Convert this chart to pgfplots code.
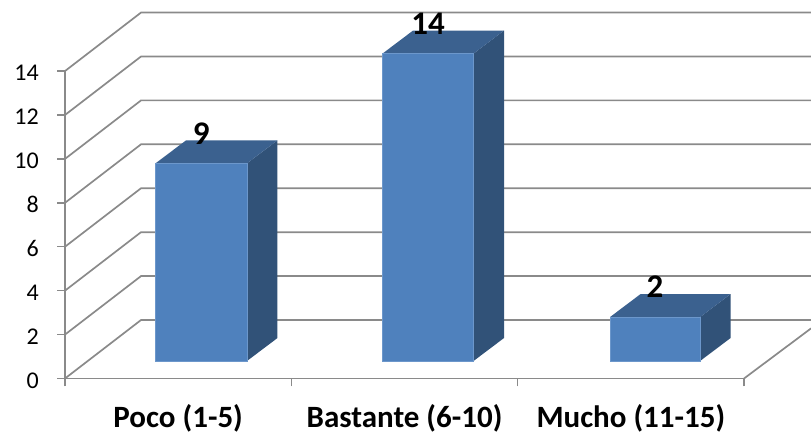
\documentclass[border=0pt]{standalone}
\usepackage{pgfplots}
\pgfplotsset{compat=1.18}
\usepackage{fontspec}
\setmainfont{Carlito}
\definecolor{axisgray}{HTML}{8A8A8A}
\definecolor{barfront}{HTML}{4F81BD}
\definecolor{bartop}{HTML}{3B618F}
\definecolor{barside}{HTML}{315278}
\definecolor{baredge}{HTML}{6C97CB}
% Depth of the chart box and of each column, in data units
\def\boxdx{0.336}
\def\boxdy{2.664}
\def\bardx{0.1348}
\def\bardy{1.047}
\def\barbase{0.797}
% One gridline: from the front wall, across the side wall, along the back wall
\newcommand{\gridline}[1]{%
  \pgfmathsetmacro{\ya}{#1+\boxdy}%
  \addplot[axisgray,line width=1.7bp,forget plot] coordinates {(0,#1) (\boxdx,\ya) (3.296,\ya)};%
}
% One column: front, top and side faces with its value above
\newcommand{\column}[3]{%
  \pgfmathsetmacro{\yt}{\barbase+#3}%
  \pgfmathsetmacro{\ytb}{\yt+\bardy}%
  \pgfmathsetmacro{\ybb}{\barbase+\bardy}%
  \pgfmathsetmacro{\xla}{#1+\bardx}%
  \pgfmathsetmacro{\xlb}{#2+\bardx}%
  \pgfmathsetmacro{\xc}{(#1+#2)/2}%
  \pgfmathsetmacro{\yl}{\yt+1.37}%
  \addplot[fill=barside,draw=none,forget plot] coordinates {(#2,\barbase) (\xlb,\ybb) (\xlb,\ytb) (#2,\yt)} -- cycle;%
  \addplot[fill=bartop,draw=none,forget plot] coordinates {(#1,\yt) (\xla,\ytb) (\xlb,\ytb) (#2,\yt)} -- cycle;%
  \addplot[fill=barfront,draw=baredge,line width=0.6bp,forget plot] coordinates {(#1,\barbase) (#2,\barbase) (#2,\yt) (#1,\yt)} -- cycle;%
  \addplot[only marks,mark=none,forget plot,
    nodes near coords={\fontsize{33bp}{33bp}\selectfont\bfseries #3},
    nodes near coords align={center},
    every node near coord/.style={inner sep=0pt,text=black}] coordinates {(\xc,\yl)};%
}
\begin{document}
\begin{tikzpicture}[x=1bp,y=1bp]
\path[use as bounding box] (0,0) rectangle (811,434);
\begin{axis}[
  at={(65bp,55.5bp)},anchor=south west,
  scale only axis,width=679bp,height=307.44bp,
  xmin=0,xmax=3,ymin=0,ymax=14,clip=false,
  axis x line*=bottom,axis y line*=left,
  axis line style={axisgray,line width=1.7bp,-},
  tick style={axisgray,line width=1.5bp},
  tick align=outside,major tick length=8bp,
  xtick={0,1,2,3},
  x tick label as interval,
  xticklabels={Poco (1-5),Bastante (6-10),Mucho (11-15)},
  ytick={0,2,...,14},
  tick label style={font=\fontsize{24bp}{24bp}\selectfont},
  /pgf/number format/assume math mode=true,
  x tick label style={font=\fontsize{31bp}{31bp}\selectfont\bfseries,inner sep=0pt,yshift=-32bp,anchor=center},
  y tick label style={inner sep=0pt,xshift=-18bp,yshift=-2bp},
]
\gridline{0}
\gridline{2}
\gridline{4}
\gridline{6}
\gridline{8}
\gridline{10}
\gridline{12}
\gridline{14}
% Right-hand edge of the floor
\addplot[axisgray,line width=1.7bp,forget plot] coordinates {(3,0) (3.296,2.28)};
\column{0.400}{0.804}{9}
\column{1.403}{1.805}{14}
\column{2.408}{2.806}{2}
\end{axis}
\end{tikzpicture}
\end{document}
